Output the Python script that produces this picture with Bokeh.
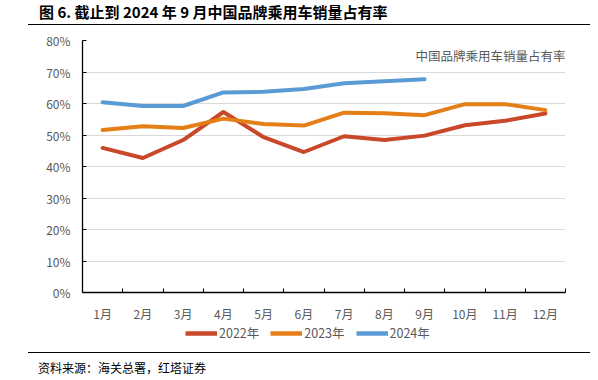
from bokeh.plotting import figure
from bokeh.models import FixedTicker, Legend, LegendItem, Label, Div, ColumnDataSource, Range1d
from bokeh.layouts import column
from bokeh.embed import file_html
from bokeh.resources import INLINE

# ---------------- data ----------------
months = ["1月", "2月", "3月", "4月", "5月", "6月", "7月", "8月", "9月", "10月", "11月", "12月"]
share_2022 = [45.9, 42.7, 48.4, 57.3, 49.3, 44.6, 49.6, 48.4, 49.8, 53.1, 54.5, 56.8]
share_2023 = [51.6, 52.8, 52.2, 55.2, 53.5, 53.0, 57.1, 56.9, 56.3, 59.8, 59.8, 57.9]
share_2024 = [60.4, 59.2, 59.2, 63.5, 63.7, 64.6, 66.4, 67.1, 67.7]
series_names = ["2022年", "2023年", "2024年"]
series_colors = ["#C9482A", "#E47E16", "#5B9BD5"]
y_ticks = [0, 10, 20, 30, 40, 50, 60, 70, 80]
y_tick_labels = ["0%", "10%", "20%", "30%", "40%", "50%", "60%", "70%", "80%"]

title_text = "图 6. 截止到 2024 年 9 月中国品牌乘用车销量占有率"
note_text = "中国品牌乘用车销量占有率"
source_text = "资料来源：海关总署，红塔证券"

FONT = "Noto Sans CJK SC"
GRAY = "#595959"
W = 590
LEFT = 82

# ---------------- main figure ----------------
p = figure(width=W, height=298, output_backend="svg", toolbar_location=None,
           x_range=Range1d(0.5, 12.5), y_range=Range1d(0, 80),
           min_border_left=LEFT, min_border_right=25, min_border_top=14, min_border_bottom=27)
p.outline_line_color = None
p.background_fill_color = "white"
p.border_fill_color = "white"

xs = list(range(1, len(months) + 1))
for vals, col in zip([share_2022, share_2023, share_2024], series_colors):
    src = ColumnDataSource(dict(x=xs[:len(vals)], y=vals))
    p.line("x", "y", source=src, line_color=col, line_width=4, line_cap="round", line_join="round")

# x axis: labels at month centres, ticks at boundaries pointing inward
p.xaxis.ticker = FixedTicker(ticks=xs, minor_ticks=[x - 0.5 for x in xs] + [len(xs) + 0.5])
p.xaxis.major_label_overrides = {x: m for x, m in zip(xs, months)}
p.xaxis.major_tick_line_color = None
p.xaxis.major_tick_out = 0
p.xaxis.major_tick_in = 0
p.xaxis.minor_tick_line_color = "black"
p.xaxis.minor_tick_out = 0
p.xaxis.minor_tick_in = 4
p.xaxis.axis_line_color = "black"
p.xaxis.axis_line_width = 1.3
p.xaxis.major_label_text_font = FONT
p.xaxis.major_label_text_font_size = "12px"
p.xaxis.major_label_text_color = GRAY
p.xaxis.major_label_standoff = 12

p.yaxis.ticker = FixedTicker(ticks=y_ticks)
p.yaxis.major_label_overrides = {t: l for t, l in zip(y_ticks, y_tick_labels)}
p.yaxis.minor_tick_line_color = None
p.yaxis.major_tick_out = 0
p.yaxis.major_tick_in = 4
p.yaxis.major_tick_line_color = "black"
p.yaxis.axis_line_color = "black"
p.yaxis.axis_line_width = 1.3
p.yaxis.major_label_text_font = FONT
p.yaxis.major_label_text_font_size = "12px"
p.yaxis.major_label_text_color = GRAY
p.yaxis.major_label_standoff = 12

p.xgrid.grid_line_color = None
p.ygrid.grid_line_color = "#D9D9D9"
p.ygrid.grid_line_width = 1

# annotation text inside the plot
p.add_layout(Label(x=12.5, y=75.3, text=note_text, text_align="right", text_baseline="middle",
                   text_font=FONT, text_font_size="12.5px", text_color=GRAY))

# ---------------- legend strip ----------------
lg = figure(width=W, height=24, output_backend="svg", toolbar_location=None,
            x_range=Range1d(0, 1), y_range=Range1d(0, 1), x_axis_type=None, y_axis_type=None,
            min_border_left=LEFT, min_border_right=25, min_border_top=0, min_border_bottom=0)
lg.outline_line_color = None
lg.grid.visible = False
nan = float("nan")
swatches = [lg.line(x=[nan, nan], y=[nan, nan], line_color=c, line_width=4.5) for c in series_colors]
legend = Legend(items=[LegendItem(label=n, renderers=[r]) for n, r in zip(series_names, swatches)],
                orientation="horizontal", location=(185 - LEFT, 6),
                label_text_font=FONT, label_text_font_size="12.5px", label_text_color=GRAY,
                glyph_width=32, glyph_height=18, label_height=18, label_standoff=2,
                spacing=11, padding=0, margin=0, border_line_color=None,
                background_fill_alpha=0)
lg.add_layout(legend, "center")

# ---------------- title & source ----------------
title_div = Div(width=W, height=26, margin=(0, 0, 0, 0), text=(
    f'<div style="margin-left:28px;width:562px;height:25px;border-bottom:1px solid #000;'
    f'box-sizing:border-box;padding-left:11px;padding-top:3px;'
    f'font-family:\'{FONT}\';font-weight:bold;font-size:15px;line-height:18px;color:#000;'
    f'white-space:nowrap;">{title_text}</div>'))

source_div = Div(width=W, height=30, margin=(0, 0, 0, 0), text=(
    f'<div style="margin-left:28px;width:562px;margin-top:4px;border-top:1px solid #000;'
    f'padding-top:7px;padding-left:10px;'
    f'font-family:\'{FONT}\';font-size:12px;line-height:16px;color:#000;'
    f'white-space:nowrap;">{source_text}</div>'))

layout = column(title_div, p, lg, source_div, spacing=0, margin=(0, 0, 0, 0))

open("out.html", "w").write(file_html(layout, INLINE))
